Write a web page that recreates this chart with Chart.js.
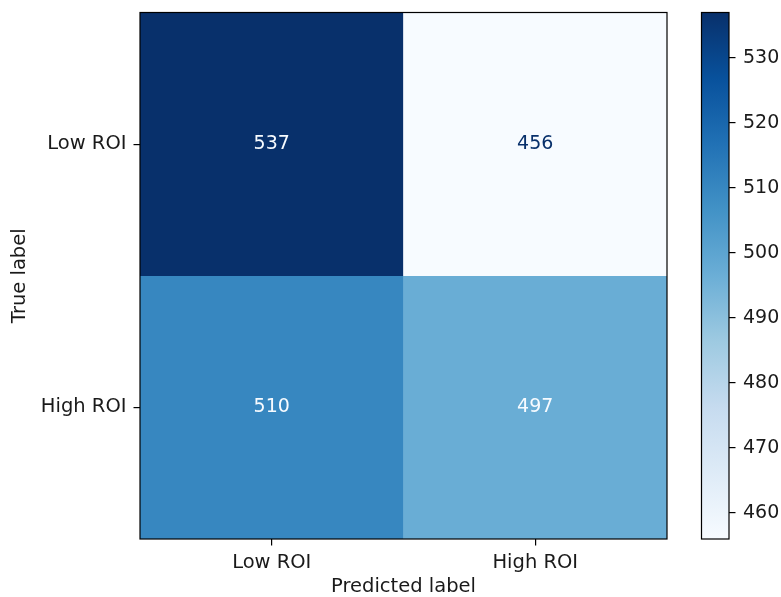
<!DOCTYPE html>
<html>
<head>
<meta charset="utf-8">
<script src="https://cdn.jsdelivr.net/npm/chart.js@4"></script>
<style>
  html, body { margin: 0; padding: 0; background: #fff; }
  #wrap { position: relative; width: 781px; height: 597px; }
  #wrap canvas { position: absolute; left: 0; top: 0; }
</style>
</head>
<body>
<div id="wrap">
  <canvas id="matrix" width="781" height="597"></canvas>
  <canvas id="cbar" width="781" height="597"></canvas>
</div>
<script>
// Confusion matrix: rows = true label, columns = predicted label
const trueLabels = ['Low ROI', 'High ROI'];
const predLabels = ['Low ROI', 'High ROI'];
const rowLowROI = [537, 456];
const rowHighROI = [510, 497];
const colorbarTicks = [460, 470, 480, 490, 500, 510, 520, 530];

const rows = [rowLowROI, rowHighROI];
const allValues = rows.flat();
const vmin = Math.min(...allValues);
const vmax = Math.max(...allValues);

// "Blues" colour map stops
const BLUES = ['#f7fbff', '#deebf7', '#c6dbef', '#9ecae1', '#6baed6',
               '#4292c6', '#2171b5', '#08519c', '#08306b'];
function hexToRgb(h) {
  return [1, 3, 5].map(i => parseInt(h.slice(i, i + 2), 16));
}
function blues(t) {
  t = Math.min(1, Math.max(0, t));
  const pos = t * (BLUES.length - 1);
  const i = Math.min(BLUES.length - 2, Math.floor(pos));
  const f = pos - i;
  const a = hexToRgb(BLUES[i]), b = hexToRgb(BLUES[i + 1]);
  const c = a.map((v, k) => Math.round(v + (b[k] - v) * f));
  return `rgb(${c[0]},${c[1]},${c[2]})`;
}
const norm = v => (v - vmin) / (vmax - vmin);

const FAMILY = "'DejaVu Sans', sans-serif";
const TEXT = '#1a1a1a';
const LABEL_FONT = { family: FAMILY, size: 19.5 };
const NUM_FONT = { family: FAMILY, size: 19 };
Chart.defaults.font.family = FAMILY;
Chart.defaults.color = TEXT;

const n = trueLabels.length;

// Frame around the plotting area
const framePlugin = {
  id: 'frame',
  afterDatasetsDraw(chart) {
    const { ctx, chartArea: a } = chart;
    ctx.save();
    ctx.strokeStyle = '#000';
    ctx.lineWidth = 1.2;
    ctx.strokeRect(a.left, a.top, a.right - a.left, a.bottom - a.top);
    ctx.restore();
  }
};

// Cell value annotations
const cellText = {
  id: 'cellText',
  afterDatasetsDraw(chart) {
    const { ctx } = chart;
    const thresh = (vmax + vmin) / 2;
    ctx.save();
    ctx.font = `${NUM_FONT.size}px ${FAMILY}`;
    ctx.textAlign = 'center';
    ctx.textBaseline = 'middle';
    chart.data.datasets.forEach((ds, di) => {
      const meta = chart.getDatasetMeta(di);
      meta.data.forEach((bar, j) => {
        const { x, y, base } = bar.getProps(['x', 'y', 'base'], true);
        const v = rows[di][j];
        ctx.fillStyle = v < thresh ? blues(1) : blues(0);
        ctx.fillText(String(v), x, (y + base) / 2);
      });
    });
    ctx.restore();
  }
};

const tickGrid = {
  display: true,
  drawOnChartArea: false,
  drawTicks: true,
  tickLength: 6.5,
  color: '#000',
  lineWidth: 1.2,
  offset: false
};

function noEdgePadding(scale) {
  scale.paddingTop = 0;
  scale.paddingBottom = 0;
  scale.paddingLeft = 0;
  scale.paddingRight = 0;
}

new Chart(document.getElementById('matrix'), {
  type: 'bar',
  data: {
    labels: predLabels,
    datasets: rows.map((vals, r) => ({
      label: trueLabels[r],
      data: vals.map(() => [n - r - 1, n - r]),
      backgroundColor: vals.map(v => blues(norm(v))),
      borderWidth: 0,
      grouped: false,
      barPercentage: 1,
      categoryPercentage: 1
    }))
  },
  options: {
    responsive: false,
    animation: false,
    devicePixelRatio: 1,
    layout: { padding: { top: 12.5, right: 114, left: 0, bottom: 0 } },
    plugins: { legend: { display: false }, tooltip: { enabled: false } },
    scales: {
      x: {
        type: 'category',
        offset: true,
        grid: tickGrid,
        border: { display: false },
        ticks: { padding: 6, font: LABEL_FONT, color: TEXT, maxRotation: 0 },
        title: { display: true, text: 'Predicted label', font: { ...LABEL_FONT, lineHeight: 1 },
                 padding: { top: 0, bottom: 0 }, color: TEXT },
        afterFit(scale) { noEdgePadding(scale); scale.height = 58; }
      },
      y: {
        type: 'linear',
        min: 0,
        max: n,
        grid: tickGrid,
        border: { display: false },
        afterBuildTicks(scale) {
          scale.ticks = trueLabels.map((_, r) => ({ value: n - r - 0.5 }));
        },
        ticks: {
          padding: 7,
          font: LABEL_FONT,
          color: TEXT,
          callback: v => trueLabels[Math.round(n - 0.5 - v)]
        },
        title: { display: true, text: 'True label', font: { ...LABEL_FONT, lineHeight: 1 },
                 padding: { top: 10.5, bottom: 0 }, color: TEXT },
        afterFit(scale) { noEdgePadding(scale); scale.width = 140; }
      }
    }
  },
  plugins: [cellText, framePlugin]
});

// Colour bar
new Chart(document.getElementById('cbar'), {
  type: 'bar',
  data: {
    labels: ['scale'],
    datasets: [{
      data: [[vmin, vmax]],
      backgroundColor(ctx) {
        const a = ctx.chart.chartArea;
        if (!a) return blues(0.5);
        const g = ctx.chart.ctx.createLinearGradient(0, a.bottom, 0, a.top);
        BLUES.forEach((c, i) => g.addColorStop(i / (BLUES.length - 1), c));
        return g;
      },
      borderWidth: 0,
      barPercentage: 1,
      categoryPercentage: 1
    }]
  },
  options: {
    responsive: false,
    animation: false,
    devicePixelRatio: 1,
    layout: { padding: { top: 12.5, right: 0, left: 701.5, bottom: 58 } },
    plugins: { legend: { display: false }, tooltip: { enabled: false } },
    scales: {
      x: { display: false, offset: true },
      y: {
        type: 'linear',
        position: 'right',
        min: vmin,
        max: vmax,
        grid: tickGrid,
        border: { display: false },
        afterBuildTicks(scale) {
          scale.ticks = colorbarTicks.map(v => ({ value: v }));
        },
        ticks: { padding: 7.5, font: NUM_FONT, color: TEXT },
        afterFit(scale) { noEdgePadding(scale); scale.width = 52; }
      }
    }
  },
  plugins: [framePlugin]
});
</script>
</body>
</html>
